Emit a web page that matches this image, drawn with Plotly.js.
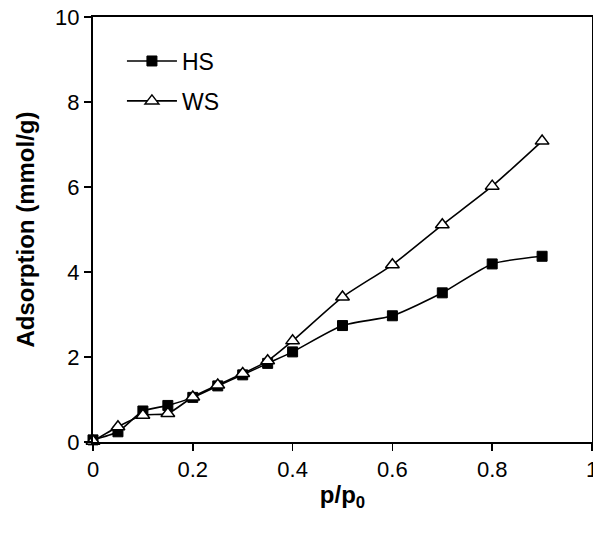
<!DOCTYPE html>
<html>
<head>
<meta charset="utf-8">
<script src="https://cdn.plot.ly/plotly-3.0.1.min.js"></script>
<style>html,body{margin:0;padding:0;background:#fff;}#chart{width:593px;height:542px;}</style>
</head>
<body>
<div id="chart"></div>
<script>
const pressure = [0, 0.05, 0.1, 0.15, 0.2, 0.25, 0.3, 0.35, 0.4, 0.5, 0.6, 0.7, 0.8, 0.9];
const hsValues = [0.05, 0.24, 0.73, 0.86, 1.05, 1.32, 1.58, 1.85, 2.12, 2.74, 2.97, 3.51, 4.19, 4.37];
const wsValues = [0.02, 0.36, 0.63, 0.67, 1.06, 1.34, 1.61, 1.91, 2.38, 3.41, 4.17, 5.11, 6.02, 7.08];
const seriesNames = ["HS", "WS"];
const xTickVals = [0, 0.2, 0.4, 0.6, 0.8, 1];
const xTickText = ["0", "0.2", "0.4", "0.6", "0.8", "1"];
const yTickVals = [0, 2, 4, 6, 8, 10];

const fontFam = "Liberation Sans, Arial, sans-serif";

const traces = [
  {
    x: pressure, y: hsValues, name: seriesNames[0], mode: "lines+markers",
    legendgroup: "a",
    line: {color: "#000", width: 1.6, shape: "spline", smoothing: 0.6},
    marker: {symbol: "square", size: 10, color: "#000", line: {color: "#000", width: 1}},
    cliponaxis: false
  },
  {
    x: pressure, y: wsValues, name: seriesNames[1], mode: "lines+markers",
    legendgroup: "b",
    line: {color: "#000", width: 1.6, shape: "spline", smoothing: 0.6},
    marker: {symbol: "triangle-up", size: 12, color: "#fff", line: {color: "#000", width: 1.5}},
    cliponaxis: false
  }
];

const layout = {
  width: 593, height: 542,
  margin: {l: 93, r: 1, t: 17, b: 100},
  paper_bgcolor: "#fff", plot_bgcolor: "#fff",
  font: {family: fontFam, color: "#000", size: 22},
  showlegend: true,
  legend: {x: 0.058, y: 0.947, xanchor: "left", yanchor: "top", bgcolor: "rgba(0,0,0,0)",
           font: {family: fontFam, size: 23, color: "#000"}, itemwidth: 50, traceorder: "grouped", tracegroupgap: 7},
  xaxis: {
    range: [0, 1], tickvals: xTickVals, ticktext: xTickText,
    ticks: "outside", ticklen: 7, tickwidth: 1.5, tickcolor: "#000",
    ticklabeloverflow: "allow",
    showline: true, linecolor: "#000", linewidth: 2, mirror: true,
    showgrid: false, zeroline: false,
    tickfont: {family: fontFam, size: 22, color: "#000"},
    title: {text: "<b>p/p<sub>0</sub></b>", font: {family: fontFam, size: 24, color: "#000"}, standoff: 5}
  },
  yaxis: {
    range: [0, 10], tickvals: yTickVals,
    ticks: "outside", ticklen: 7, tickwidth: 1.5, tickcolor: "#000",
    showline: true, linecolor: "#000", linewidth: 2, mirror: true,
    showgrid: false, zeroline: false,
    tickfont: {family: fontFam, size: 22, color: "#000"},
    title: {text: "<b>Adsorption (mmol/g)</b>", font: {family: fontFam, size: 24, color: "#000"}, standoff: 14}
  }
};

Plotly.newPlot("chart", traces, layout, {displayModeBar: false, staticPlot: true});
</script>
</body>
</html>
